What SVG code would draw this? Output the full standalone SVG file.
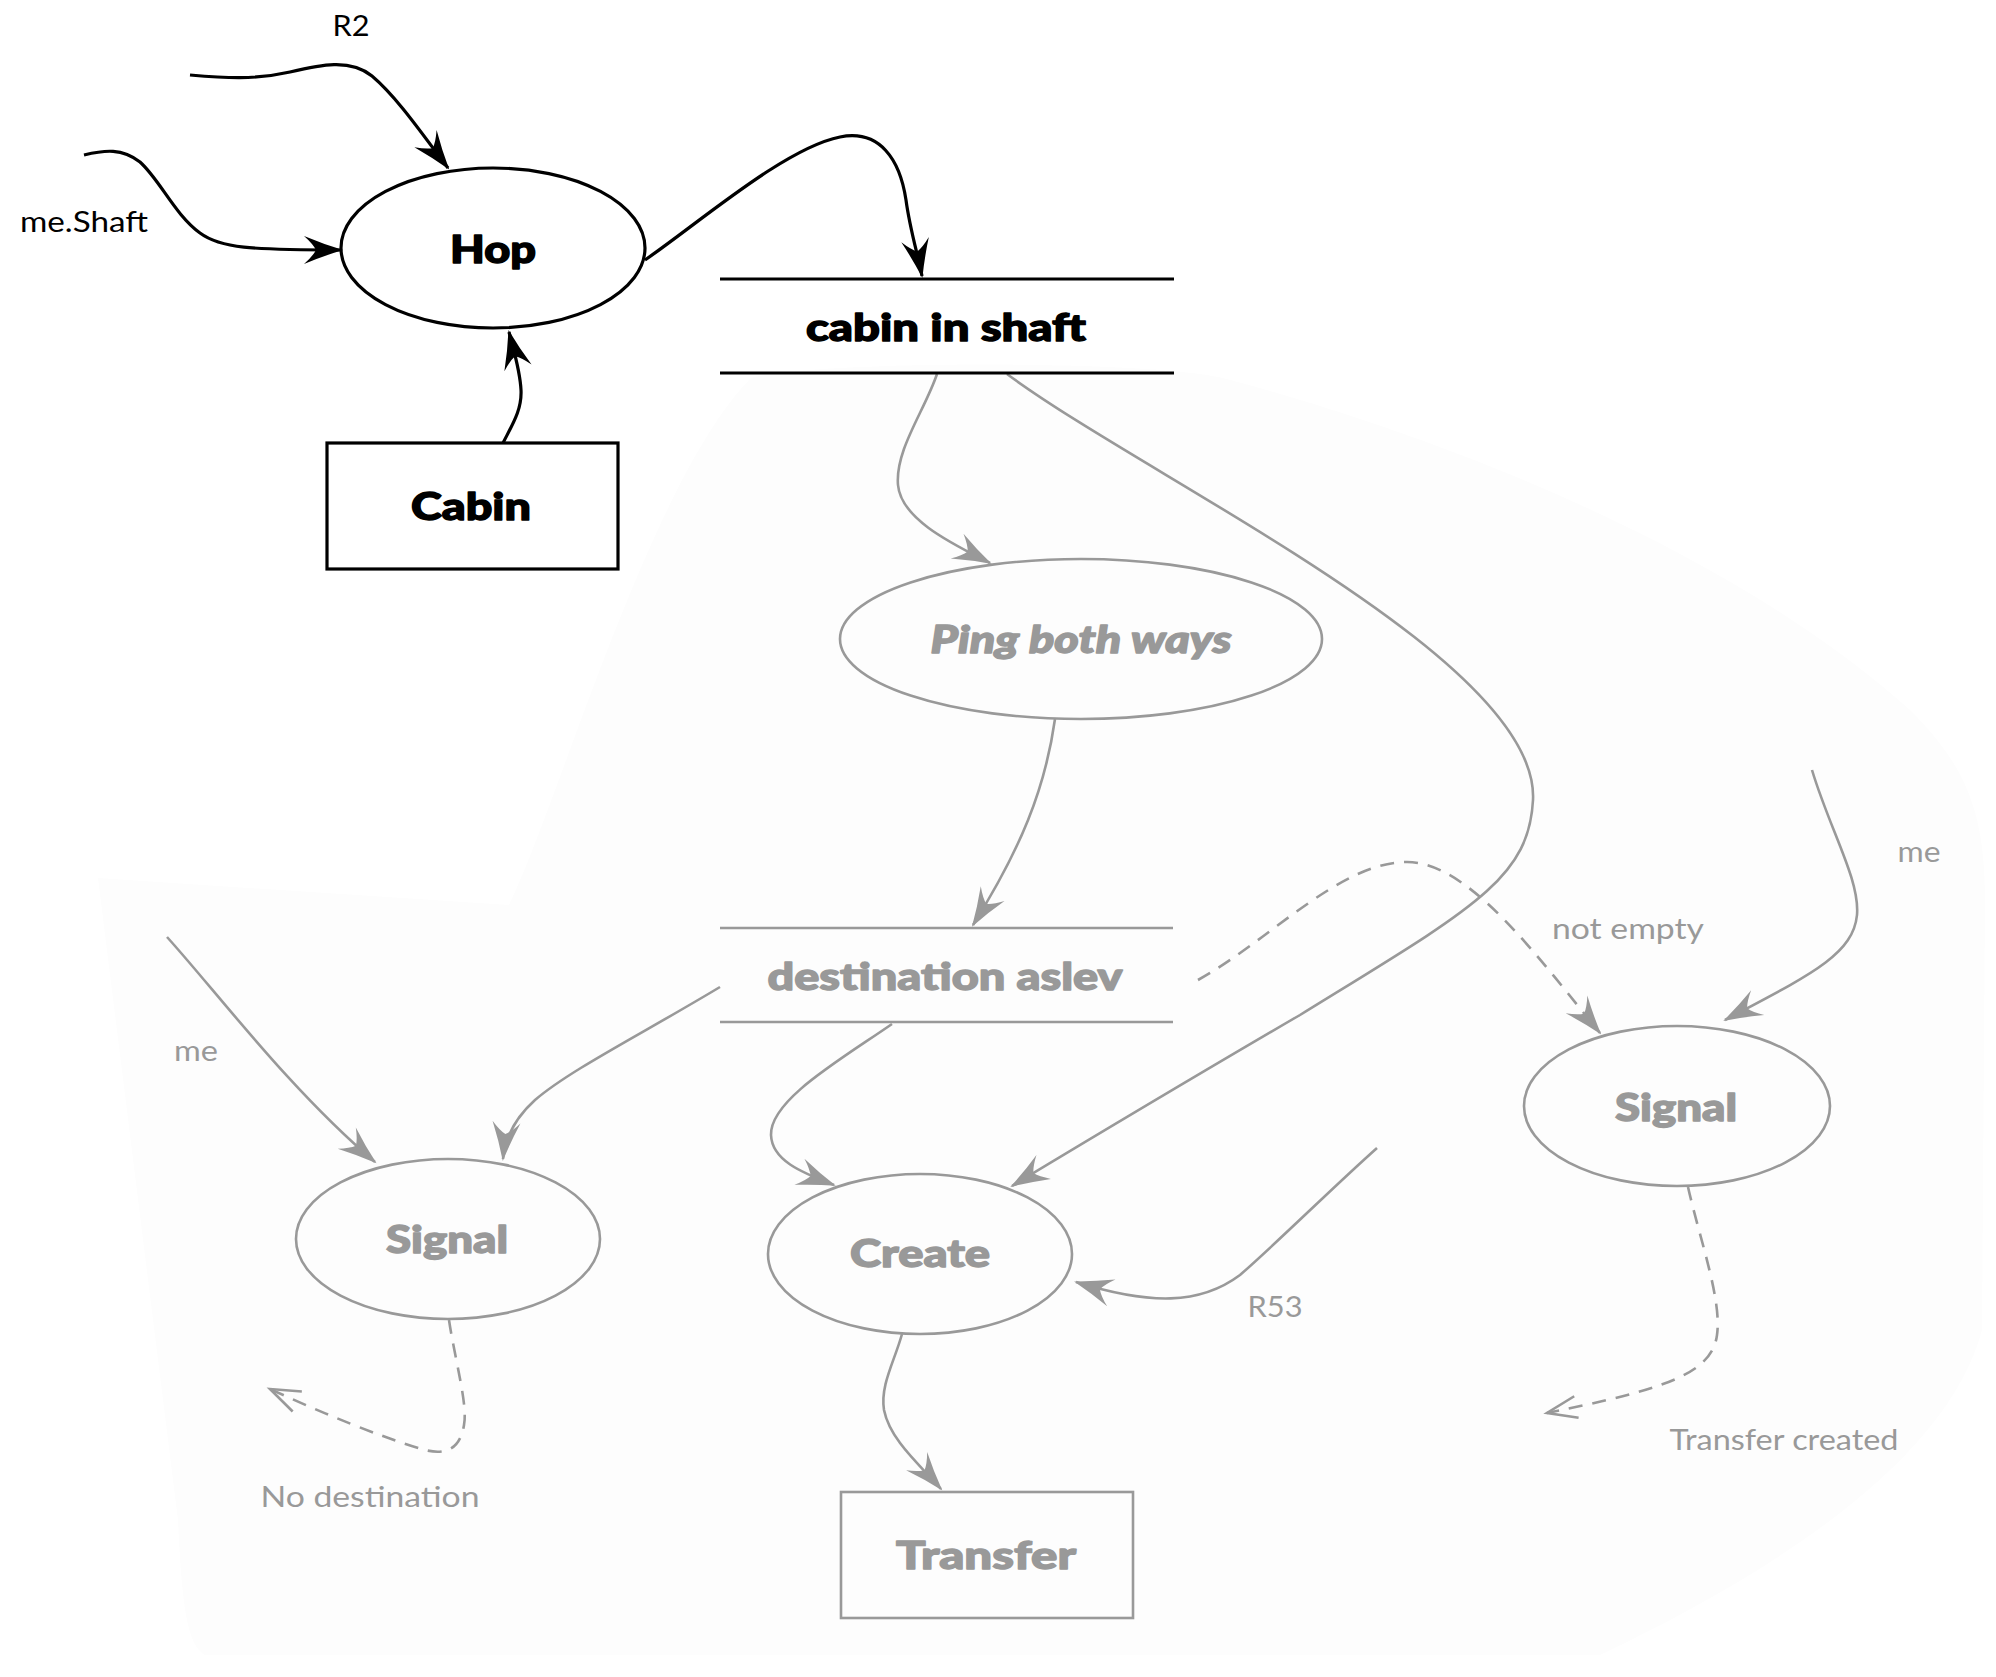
<svg xmlns="http://www.w3.org/2000/svg" width="1996" height="1677" viewBox="0 0 1996 1677">
<style>
.bk{fill:none;stroke:#000;stroke-width:3.2}
.gy{fill:none;stroke:#999;stroke-width:2.6}
.dash{stroke-dasharray:14 10}
.nt{font-family:Lato,"Liberation Sans",sans-serif;font-weight:900;font-size:38px;text-anchor:middle;stroke-width:1.4;stroke-linejoin:round}
.lb{font-family:Lato,"Liberation Sans",sans-serif;font-weight:400;font-size:28px;text-anchor:middle}
.k{fill:#000}
.g{fill:#999}
.nt.k{stroke:#000}
.nt.g{stroke:#999}
</style>
<defs>
<marker id="ak" viewBox="-40 -20 44 40" refX="0" refY="0" markerWidth="44" markerHeight="40" markerUnits="userSpaceOnUse" orient="auto">
<path d="M2,0 Q-18,-6 -37,-14 Q-28,-6 -25,0 Q-28,6 -37,14 Q-18,6 2,0 Z" fill="#000"/>
</marker>
<marker id="ag" viewBox="-40 -20 44 40" refX="0" refY="0" markerWidth="44" markerHeight="40" markerUnits="userSpaceOnUse" orient="auto">
<path d="M2,0 Q-18,-6 -37,-14 Q-28,-6 -25,0 Q-28,6 -37,14 Q-18,6 2,0 Z" fill="#999"/>
</marker>
<marker id="ao" viewBox="-40 -20 44 40" refX="0" refY="0" markerWidth="44" markerHeight="40" markerUnits="userSpaceOnUse" orient="auto">
<path d="M-30,-11 L0,0 L-30,11" fill="none" stroke="#999" stroke-width="2.6"/>
</marker>
</defs>
<rect width="1996" height="1677" fill="#fff"/>
<path d="M98,878 L509,905 C560,800 650,480 751,378 C820,360 1150,360 1223,378 C1420,430 1720,540 1910,710 C1965,765 1985,810 1985,900 L1982,1330 C1950,1450 1800,1560 1600,1655 L205,1655 C188,1645 182,1610 178,1520 Z" fill="#fdfdfd"/>
<g id="connectors">
<path class="bk" d="M190,75 C225,78 255,80 290,72 C320,65 350,58 372,76 C398,98 425,138 448,168" marker-end="url(#ak)"/>
<path class="bk" d="M84,155 C105,150 122,148 140,162 C160,180 175,215 200,233 C220,248 250,250 341,250" marker-end="url(#ak)"/>
<path class="bk" d="M503,443 C512,425 522,410 521,390 C520,370 514,352 509,332" marker-end="url(#ak)"/>
<path class="bk" d="M645,260 C700,222 785,148 840,137 C880,129 900,160 906,200 C910,230 918,255 922,276" marker-end="url(#ak)"/>
<path class="gy" d="M937,374 C925,410 895,450 898,485 C901,520 955,545 990,563" marker-end="url(#ag)"/>
<path class="gy" d="M1007,374 C1150,480 1540,660 1533,800 C1529,880 1470,910 1300,1015 C1180,1085 1080,1145 1012,1186" marker-end="url(#ag)"/>
<path class="gy" d="M1055,719 C1045,790 1020,850 973,925" marker-end="url(#ag)"/>
<path class="gy" d="M720,987 C640,1035 570,1070 535,1100 C515,1118 505,1138 503,1159" marker-end="url(#ag)"/>
<path class="gy" d="M167,937 C215,990 290,1090 375,1162" marker-end="url(#ag)"/>
<path class="gy dash" d="M449,1320 C455,1360 468,1405 464,1425 C460,1450 445,1455 425,1450 C380,1437 320,1412 270,1389" marker-end="url(#ao)"/>
<path class="gy" d="M892,1024 C840,1060 770,1100 771,1135 C772,1160 800,1172 834,1185" marker-end="url(#ag)"/>
<path class="gy" d="M1377,1148 C1330,1190 1280,1240 1240,1275 C1200,1305 1150,1305 1076,1282" marker-end="url(#ag)"/>
<path class="gy" d="M902,1334 C895,1360 880,1385 884,1410 C890,1440 920,1465 941,1489" marker-end="url(#ag)"/>
<path class="gy" d="M1812,770 C1830,830 1860,880 1857,915 C1853,955 1810,975 1725,1020" marker-end="url(#ag)"/>
<path class="gy dash" d="M1198,980 C1270,940 1340,862 1407,862 C1470,862 1540,960 1600,1033" marker-end="url(#ag)"/>
<path class="gy dash" d="M1688,1187 C1700,1240 1722,1300 1717,1335 C1712,1375 1660,1390 1547,1413" marker-end="url(#ao)"/>
<text class="lb k" x="351" y="36" textLength="37" lengthAdjust="spacingAndGlyphs">R2</text>
<text class="lb k" x="84" y="232" textLength="128" lengthAdjust="spacingAndGlyphs">me.Shaft</text>
<text class="lb g" x="196" y="1061" textLength="44" lengthAdjust="spacingAndGlyphs">me</text>
<text class="lb g" x="370" y="1507" textLength="219" lengthAdjust="spacingAndGlyphs">No destination</text>
<text class="lb g" x="1275" y="1317" textLength="55" lengthAdjust="spacingAndGlyphs">R53</text>
<text class="lb g" x="1628" y="939" textLength="152" lengthAdjust="spacingAndGlyphs">not empty</text>
<text class="lb g" x="1919" y="862" textLength="43" lengthAdjust="spacingAndGlyphs">me</text>
<text class="lb g" x="1784" y="1450" textLength="229" lengthAdjust="spacingAndGlyphs">Transfer created</text>
</g>
<g id="hop">
<ellipse cx="493" cy="248" rx="152" ry="80" fill="none" stroke="#000" stroke-width="3.2"/>
<text class="nt k" x="493" y="263" textLength="86" lengthAdjust="spacingAndGlyphs">Hop</text>
</g>
<g id="cabin">
<rect x="327" y="443" width="291" height="126" fill="none" stroke="#000" stroke-width="3.2"/>
<text class="nt k" x="471" y="520" textLength="120" lengthAdjust="spacingAndGlyphs">Cabin</text>
</g>
<g id="cabin-in-shaft">
<path class="bk" d="M720,279 H1174 M720,373 H1174" stroke-width="3.6"/>
<text class="nt k" x="946" y="341" textLength="280" lengthAdjust="spacingAndGlyphs">cabin in shaft</text>
</g>
<g id="ping">
<ellipse cx="1081" cy="639" rx="241" ry="80" fill="none" stroke="#999" stroke-width="2.6"/>
<text class="nt g" x="1081" y="653" font-style="italic" textLength="301" lengthAdjust="spacingAndGlyphs">Ping both ways</text>
</g>
<g id="destination-aslev">
<path class="gy" d="M720,928 H1173 M720,1022 H1173"/>
<text class="nt g" x="945" y="990" textLength="355" lengthAdjust="spacingAndGlyphs">destination aslev</text>
</g>
<g id="signal-left">
<ellipse cx="448" cy="1239" rx="152" ry="80" fill="none" stroke="#999" stroke-width="2.6"/>
<text class="nt g" x="447" y="1253" textLength="122" lengthAdjust="spacingAndGlyphs">Signal</text>
</g>
<g id="create">
<ellipse cx="920" cy="1254" rx="152" ry="80" fill="none" stroke="#999" stroke-width="2.6"/>
<text class="nt g" x="920" y="1267" textLength="140" lengthAdjust="spacingAndGlyphs">Create</text>
</g>
<g id="transfer">
<rect x="841" y="1492" width="292" height="126" fill="none" stroke="#999" stroke-width="2.6"/>
<text class="nt g" x="986" y="1569" textLength="180" lengthAdjust="spacingAndGlyphs">Transfer</text>
</g>
<g id="signal-right">
<ellipse cx="1677" cy="1106" rx="153" ry="80" fill="none" stroke="#999" stroke-width="2.6"/>
<text class="nt g" x="1676" y="1121" textLength="122" lengthAdjust="spacingAndGlyphs">Signal</text>
</g>
</svg>
